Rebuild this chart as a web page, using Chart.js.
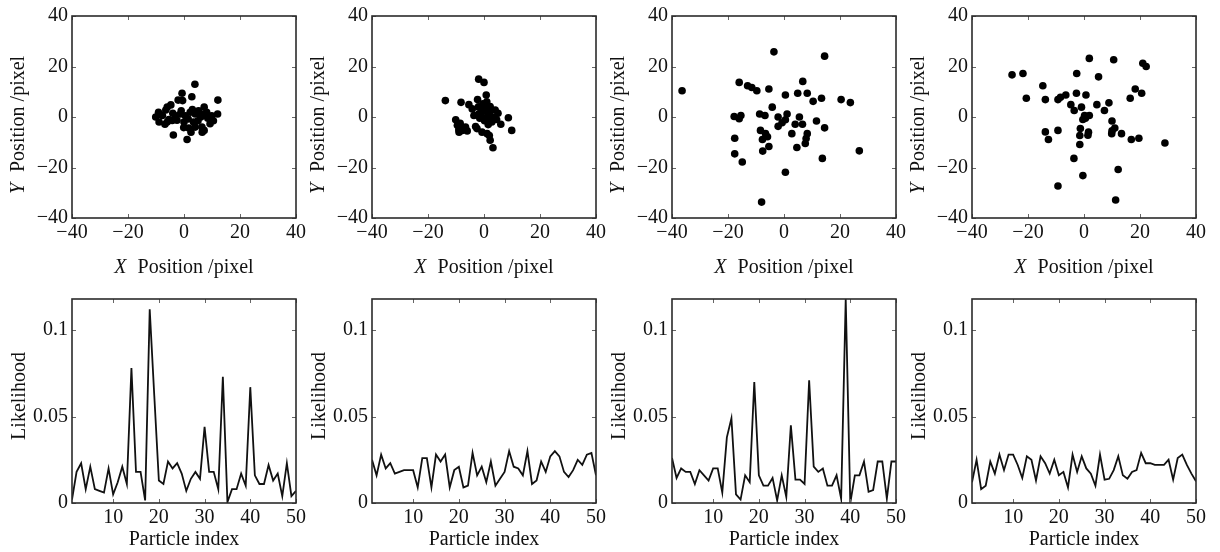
<!DOCTYPE html>
<html>
<head>
<meta charset="utf-8">
<script src="https://cdn.jsdelivr.net/npm/chart.js@4.4.1/dist/chart.umd.min.js"></script>
<style>
  html, body { margin: 0; padding: 0; background: #fff; }
  #wrap { position: relative; width: 1220px; height: 552px; overflow: hidden; }
  canvas { position: absolute; }
</style>
</head>
<body>
<div id="wrap"></div>
<script>
// particle positions [x, y] in pixels, one list per frame
var pos1 = [[3.9,13],[-0.7,9.4],[2.8,8],[12.1,6.7],[-2.1,6.7],[-0.5,6.5],[-4.7,4.8],[-6,3.9],[-6.5,2.8],[-9.1,1.9],
  [-10.1,0],[-8.9,-2],[-6.8,-2.9],[-4.2,-1.4],[-3,0.5],[-1.3,1.2],[0.5,0.5],[2.2,1.9],[4,1.2],[5.2,2.5],
  [7.2,3.9],[8.1,1.9],[9.9,0.5],[12,1.2],[9.3,-2.7],[7.2,-5.3],[6.4,-4],[4,-4],[1.7,-4.4],[-0.1,-4.2],
  [-3.8,-7.1],[1.1,-8.9],[3.4,-2],[-5.4,-1],[-7.7,0.6],[-2.5,-1.3],[1.5,-0.8],[6,0],[8.5,-0.5],[10.5,-1.5],
  [-8,0.8],[-1,2.5],[3,3],[5,-1.5],[-4,1.5],[7,1],[-6,-2],[0,-2],[2.5,-6],[6.5,-6]];
var pos2 = [[-1.9,15],[0,13.7],[0.8,8.7],[-13.8,6.5],[-8.2,5.8],[-5.4,4.9],[-2.3,6.9],[-4.2,3.2],[-0.4,5.2],[2.2,4.1],
  [4,2.8],[0.5,2.5],[-1.9,1.2],[-3.6,0.6],[-0.7,0],[1.1,-0.7],[2.8,-2],[6,-2.9],[8.7,-0.3],[9.9,-5.3],
  [-10.1,-1.1],[-9.5,-3.3],[-8.9,-6],[-6.6,-4],[-7.8,-5.3],[-2.5,-4.6],[-0.7,-6],[1.1,-6.6],[2.2,-9.2],[3.2,-12.2],
  [1.9,-7.3],[-9,-5],[-8,-4.5],[0.3,3.5],[1.5,1],[-1,2],[3,0],[-3,-3.8],[-2,4],[1,6],
  [-6,-5.5],[4.5,-1],[0.2,-1.5],[2,2],[-1.5,-0.5],[-8.5,-2.5],[5,1.5],[1.5,-3]];
var pos3 = [[-36.4,10.4],[-3.6,25.8],[14.5,24.1],[-16,13.7],[-13,12.4],[-11.5,11.7],[-9.7,10.4],[-5.4,11.1],[6.7,14.1],[0.5,8.7],
  [4.9,9.4],[8.3,9.4],[10.4,6.2],[13.4,7.4],[20.4,6.9],[23.7,5.7],[-4.2,3.9],[-8.7,1.2],[-6.8,0.6],[-17.8,0.2],
  [-15.4,0.6],[-16,-0.7],[-2.1,0],[1.1,1.2],[0.5,-1.1],[-2.1,-3.7],[-0.7,-2.3],[5.5,0],[11.6,-1.6],[14.5,-4.3],
  [4,-2.9],[6.6,-2.9],[-8.4,-5.3],[-6.6,-6.6],[-7.7,-8.9],[-5.9,-7.8],[-5.4,-11.7],[-7.6,-13.5],[-17.6,-8.4],[-17.6,-14.6],
  [-14.9,-17.8],[2.8,-6.6],[4.6,-12.1],[8.3,-6.6],[7.9,-8.5],[7.6,-10.5],[13.7,-16.4],[26.9,-13.4],[0.5,-21.9],[-8,-33.7]];
var pos4 = [[1.9,23.2],[10.6,22.7],[21,21.3],[22.2,20],[-25.7,16.7],[-21.8,17.2],[-2.6,17.2],[5.2,15.9],[-14.7,12.4],[18.3,11.1],
  [20.6,9.4],[-20.6,7.4],[-13.8,6.9],[-9.3,6.9],[-8.4,7.8],[-6.5,8.7],[-2.7,9.4],[0.7,8.7],[16.5,7.4],[-4.7,4.9],
  [-3.5,2.6],[-0.9,3.9],[4.6,4.9],[8.9,5.6],[7.3,2.6],[0.2,0.6],[1.9,0.6],[-0.4,-1],[10,-1.6],[11,-4.4],
  [9.9,-6.6],[10,-5.5],[13.4,-6.6],[16.9,-8.9],[19.6,-8.4],[28.9,-10.3],[-13.8,-5.9],[-9.3,-5.3],[-12.7,-8.9],[-1.3,-4.6],
  [-1.5,-7.3],[1.6,-6],[1.4,-7.2],[-1.5,-10.9],[-3.6,-16.4],[12.2,-20.8],[-0.4,-23.2],[-9.3,-27.3],[11.3,-32.9],[0.5,-0.5]];

// particle index (x of the likelihood plots)
var particleIdx = [1,2,3,4,5,6,7,8,9,10,11,12,13,14,15,16,17,18,19,20,21,22,23,24,25,
  26,27,28,29,30,31,32,33,34,35,36,37,38,39,40,41,42,43,44,45,46,47,48,49,50];

// likelihood of each particle, one list per frame
var lik1 = [0.002,0.018,0.023,0.008,0.021,0.008,0.007,0.006,0.020,0.005,
  0.012,0.021,0.011,0.078,0.018,0.018,0.0015,0.112,0.062,0.013,
  0.011,0.024,0.020,0.023,0.017,0.007,0.014,0.018,0.014,0.044,
  0.018,0.018,0.008,0.073,0.0005,0.008,0.008,0.017,0.010,0.067,
  0.016,0.011,0.011,0.022,0.013,0.017,0.004,0.023,0.004,0.007];
var lik2 = [0.025,0.016,0.028,0.020,0.023,0.017,0.018,0.019,0.019,0.019,
  0.009,0.026,0.026,0.009,0.028,0.024,0.028,0.009,0.019,0.021,
  0.009,0.010,0.029,0.016,0.021,0.012,0.024,0.010,0.014,0.018,
  0.030,0.021,0.020,0.016,0.030,0.011,0.013,0.024,0.018,0.027,
  0.030,0.027,0.018,0.015,0.019,0.025,0.022,0.028,0.029,0.016];
var lik3 = [0.026,0.0145,0.020,0.018,0.018,0.011,0.019,0.016,0.013,0.020,
  0.020,0.006,0.038,0.049,0.005,0.002,0.016,0.012,0.070,0.016,
  0.010,0.010,0.0145,0.0015,0.016,0.0035,0.045,0.0135,0.0135,0.011,
  0.071,0.021,0.018,0.020,0.010,0.010,0.016,0.0025,0.118,0,
  0.016,0.016,0.024,0.0065,0.0075,0.024,0.024,0.0025,0.024,0.024];
var lik4 = [0.012,0.025,0.008,0.010,0.024,0.017,0.028,0.019,0.028,0.028,
  0.022,0.0145,0.027,0.025,0.013,0.027,0.023,0.017,0.025,0.016,
  0.018,0.009,0.028,0.018,0.027,0.020,0.017,0.010,0.028,0.0135,
  0.014,0.019,0.027,0.016,0.014,0.018,0.019,0.029,0.023,0.023,
  0.022,0.022,0.022,0.025,0.0135,0.026,0.028,0.022,0.017,0.0125];

// tick labels
var posTicks = [-40, -20, 0, 20, 40];
var idxTicks = [10, 20, 30, 40, 50];
var likTicks = [0, 0.05, 0.1];

var FONT = "'Liberation Serif', 'Times New Roman', serif";
var plotLefts = [72, 372, 672, 972];

Chart.defaults.font.family = FONT;
Chart.defaults.font.size = 20;
Chart.defaults.color = '#111';

function drawTitle(ctx, cx, cy, it, rest, rot) {
  ctx.save();
  ctx.translate(cx, cy);
  if (rot) ctx.rotate(-Math.PI / 2);
  var fi = 'italic 20px ' + FONT, fn = '20px ' + FONT;
  ctx.font = fi;
  var wi = it ? ctx.measureText(it).width : 0;
  var gap = it ? 11 : 0;
  ctx.font = fn;
  var wr = ctx.measureText(rest).width;
  var x0 = -(wi + gap + wr) / 2;
  ctx.textBaseline = 'middle';
  ctx.textAlign = 'left';
  ctx.fillStyle = '#111';
  if (it) { ctx.font = fi; ctx.fillText(it, x0, 0); }
  ctx.font = fn;
  ctx.fillText(rest, x0 + wi + gap, 0);
  ctx.restore();
}

// box, inward ticks and axis titles (MATLAB look)
var framePlugin = {
  id: 'frame',
  afterDraw: function(chart, args, o) {
    var a = chart.chartArea, ctx = chart.ctx;
    var xs = chart.scales.x, ys = chart.scales.y;
    ctx.save();
    ctx.strokeStyle = '#666';
    ctx.lineWidth = 1;
    xs.ticks.forEach(function(t) {
      var px = Math.round(xs.getPixelForValue(t.value)) + 0.5;
      ctx.beginPath();
      ctx.moveTo(px, a.bottom); ctx.lineTo(px, a.bottom - 4);
      ctx.moveTo(px, a.top); ctx.lineTo(px, a.top + 4);
      ctx.stroke();
    });
    ys.ticks.forEach(function(t) {
      var py = Math.round(ys.getPixelForValue(t.value)) + 0.5;
      ctx.beginPath();
      ctx.moveTo(a.left, py); ctx.lineTo(a.left + 4, py);
      ctx.moveTo(a.right, py); ctx.lineTo(a.right - 4, py);
      ctx.stroke();
    });
    ctx.strokeStyle = '#2b2b2b';
    ctx.lineWidth = 1.6;
    ctx.strokeRect(a.left, a.top, a.width, a.height);
    ctx.restore();
    drawTitle(ctx, (a.left + a.right) / 2, a.bottom + o.xOff, o.xi, o.xt, false);
    drawTitle(ctx, a.left - o.yOff, (a.top + a.bottom) / 2 + o.yShift, o.yi, o.yt, true);
  }
};

function minusFix(v) { return String(v).replace('-', '\u2212'); }

function makeCanvas(left, top, w, h) {
  var c = document.createElement('canvas');
  c.width = w; c.height = h;
  c.style.left = left + 'px'; c.style.top = top + 'px';
  c.style.width = w + 'px'; c.style.height = h + 'px';
  document.getElementById('wrap').appendChild(c);
  return c;
}

function axis(min, max, tickVals, fitProp, fitVal) {
  return {
    type: 'linear', min: min, max: max,
    grid: { display: false, drawTicks: false },
    border: { display: false },
    afterBuildTicks: function(s) { s.ticks = tickVals.map(function(v) { return { value: v }; }); },
    afterFit: function(s) { s[fitProp] = fitVal; },
    ticks: { color: '#111', padding: fitProp === 'width' ? 4 : 3,
      font: { family: FONT, size: 20, style: 'normal' },
      maxRotation: 0, autoSkip: false, callback: minusFix }
  };
}

function baseOptions(xAx, yAx, frame) {
  return {
    responsive: false, animation: false, devicePixelRatio: 1,
    layout: { autoPadding: false, padding: { top: 15, right: 10, left: 0, bottom: 0 } },
    scales: { x: xAx, y: yAx },
    plugins: { legend: { display: false }, tooltip: { enabled: false }, frame: frame }
  };
}

// top row: particle positions
[pos1, pos2, pos3, pos4].forEach(function(pts, i) {
  var c = makeCanvas(plotLefts[i] - 72, 0, 309, 290);
  new Chart(c, {
    type: 'scatter',
    data: { datasets: [{
      data: pts.map(function(p) { return { x: p[0], y: p[1] }; }),
      backgroundColor: '#000', borderWidth: 0, pointRadius: 3.8
    }] },
    options: baseOptions(axis(-40, 40, posTicks, 'height', 72), axis(-40, 40, posTicks, 'width', 72),
      { xi: 'X', xt: 'Position /pixel', yi: 'Y', yt: 'Position /pixel', xOff: 50, yOff: 53, yShift: 8 }),
    plugins: [framePlugin]
  });
});

// bottom row: particle likelihoods
[lik1, lik2, lik3, lik4].forEach(function(vals, i) {
  var c = makeCanvas(plotLefts[i] - 72, 283, 309, 269);
  new Chart(c, {
    type: 'line',
    data: { datasets: [{
      data: vals.map(function(v, k) { return { x: particleIdx[k], y: v }; }),
      borderColor: '#111', borderWidth: 1.8, pointRadius: 0, tension: 0, fill: false
    }] },
    options: baseOptions(axis(1, 50, idxTicks, 'height', 49), axis(0, 0.118, likTicks, 'width', 72),
      { xi: '', xt: 'Particle index', yi: '', yt: 'Likelihood', xOff: 37, yOff: 52, yShift: -5 }),
    plugins: [framePlugin]
  });
});
</script>
</body>
</html>
